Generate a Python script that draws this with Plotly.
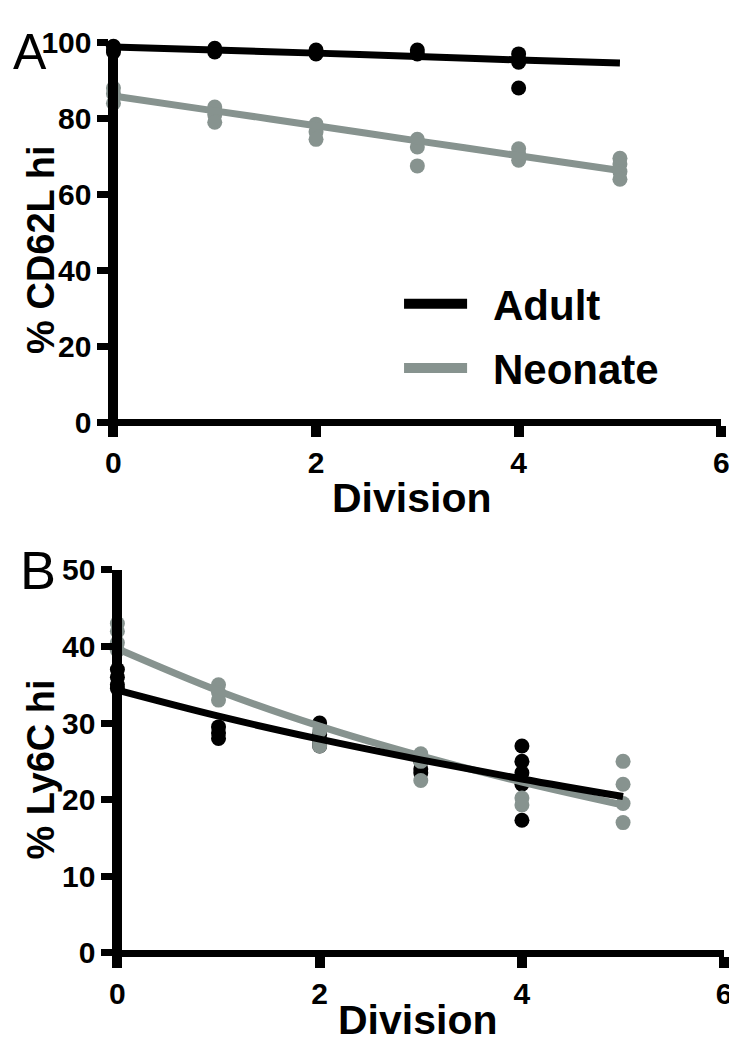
import plotly.graph_objects as go

# ---------------- data ----------------
divisions = [0, 1, 2, 3, 4, 5]

# Panel A: % CD62L hi
a_adult_x = [0, 0, 0, 1, 1, 2, 2, 3, 3, 4, 4, 4, 4]
a_adult_y = [99, 98, 97.5, 98.5, 97.5, 98, 97, 98, 97, 97, 95.5, 94.8, 88]
a_adult_fit = [98.8, 98.0, 97.2, 96.3, 95.4, 94.6]

a_neo_x = [0, 0, 0, 1, 1, 1, 2, 2, 2, 3, 3, 3, 4, 4, 4, 5, 5, 5, 5]
a_neo_y = [88, 86.5, 84, 83, 81, 79, 78.5, 76.5, 74.5, 74.5, 72.5, 67.5, 72, 70.5, 69, 69.5, 68, 66, 64]
a_neo_fit = [85.9, 82.0, 78.1, 74.1, 70.2, 66.3]

# Panel B: % Ly6C hi
b_adult_x = [0, 0, 0, 0, 1, 1, 1, 2, 2, 2, 2, 3, 3, 3, 4, 4, 4, 4, 4]
b_adult_y = [37, 36, 35, 34.5, 29.5, 28.7, 28, 30, 28.5, 27.5, 27, 25, 24, 23.5, 27, 25, 23.5, 22, 17.3]
b_adult_fit = [34.3, 30.9, 27.9, 25.2, 22.7, 20.4]

b_neo_x = [0, 0, 0, 0, 1, 1, 1, 2, 2, 2, 3, 3, 3, 4, 4, 5, 5, 5, 5]
b_neo_y = [43, 42, 40.5, 39.5, 35, 34, 33, 29, 27.5, 27, 26, 25, 22.5, 20.2, 19.3, 25, 22, 19.5, 17]
b_neo_fit = [39.7, 34.2, 29.6, 25.7, 22.3, 19.3]

a_yticks = [0, 20, 40, 60, 80, 100]
b_yticks = [0, 10, 20, 30, 40, 50]
xticks = [0, 2, 4, 6]

BLACK = "#000000"
GRAY = "#87938f"
SANS = "Liberation Sans, Arial, sans-serif"

W, H = 737, 1050
LWY = 10   # vertical axis line width
LWX = 7    # horizontal axis line width
MS = 15    # marker size
LW = 7     # fit line width

fig = go.Figure()

def add_panel(xa, ya, adult_x, adult_y, adult_fit, neo_x, neo_y, neo_fit):
    fig.add_trace(go.Scatter(x=adult_x, y=adult_y, mode="markers", xaxis=xa, yaxis=ya,
                             marker=dict(color=BLACK, size=MS), cliponaxis=False, showlegend=False))
    fig.add_trace(go.Scatter(x=neo_x, y=neo_y, mode="markers", xaxis=xa, yaxis=ya,
                             marker=dict(color=GRAY, size=MS), cliponaxis=False, showlegend=False))
    fig.add_trace(go.Scatter(x=divisions, y=neo_fit, mode="lines", xaxis=xa, yaxis=ya,
                             line=dict(color=GRAY, width=LW, shape="spline"), cliponaxis=False,
                             name="Neonate", showlegend=False))
    fig.add_trace(go.Scatter(x=divisions, y=adult_fit, mode="lines", xaxis=xa, yaxis=ya,
                             line=dict(color=BLACK, width=LW, shape="spline"), cliponaxis=False,
                             name="Adult", showlegend=False))

add_panel("x", "y", a_adult_x, a_adult_y, a_adult_fit, a_neo_x, a_neo_y, a_neo_fit)
add_panel("x2", "y2", b_adult_x, b_adult_y, b_adult_fit, b_neo_x, b_neo_y, b_neo_fit)

tickfont = dict(family=SANS, size=30, color=BLACK, weight="bold")

def make_axes(x0px, x6px, ytop_px, y0px, ymax, yticks):
    # value 0 of x at x0px, value 6 at x6px ; value 0 of y at y0px, ymax at ytop_px
    xppu = (x6px - x0px) / 6.0
    yppu = (y0px - ytop_px) / ymax
    xleft = x0px - LWY / 2.0
    ybot = y0px + LWX / 2.0
    xax = dict(domain=[xleft / W, x6px / W], range=[-(LWY / 2.0) / xppu, 6],
               anchor="free", position=(H - y0px) / H,
               showgrid=False, zeroline=False, showline=True, linecolor=BLACK, linewidth=LWX,
               ticks="outside", ticklen=11, tickwidth=10, tickcolor=BLACK, tickvals=xticks,
               tickfont=tickfont)
    yax = dict(domain=[(H - ybot) / H, (H - ytop_px) / H], range=[-(LWX / 2.0) / yppu, ymax],
               anchor="free", position=x0px / W,
               showgrid=False, zeroline=False, showline=True, linecolor=BLACK, linewidth=LWY,
               ticks="outside", ticklen=11, tickwidth=7, tickcolor=BLACK, tickvals=yticks,
               tickfont=tickfont)
    return xax, yax

xa1, ya1 = make_axes(104, 721, 18, 409, 100, a_yticks)
xa2, ya2 = make_axes(108, 724, 561, 955, 50, b_yticks)

fig.update_layout(
    width=W, height=H, margin=dict(l=0, r=0, t=0, b=0),
    paper_bgcolor="white", plot_bgcolor="white", showlegend=False,
    xaxis=xa1, yaxis=ya1, xaxis2=xa2, yaxis2=ya2,
)

# legend drawn inside panel A
for yy, col in [(287, BLACK), (353, GRAY)]:
    fig.add_shape(type="line", xref="paper", yref="paper", x0=399 / W, x1=463 / W,
                  y0=1 - yy / H, y1=1 - yy / H, line=dict(color=col, width=10))

bold = lambda s: dict(family=SANS, size=s, color=BLACK, weight="bold")
anns = [
    dict(text="Adult", x=487 / W, y=1 - 289 / H, xanchor="left", yanchor="middle", font=bold(42)),
    dict(text="Neonate", x=487 / W, y=1 - 355 / H, xanchor="left", yanchor="middle", font=bold(42)),
    dict(text="Division", x=407 / W, y=1 - 487 / H, xanchor="center", yanchor="middle", font=bold(41)),
    dict(text="Division", x=413 / W, y=0, xanchor="center", yanchor="bottom", font=bold(41)),
    dict(text="% CD62L hi", x=31 / W, y=1 - 232 / H, xanchor="center", yanchor="middle", textangle=-90,
         font=bold(38)),
    dict(text="% Ly6C hi", x=31 / W, y=1 - 767 / H, xanchor="center", yanchor="middle", textangle=-90,
         font=bold(38)),
    dict(text="A", x=0, y=1 - 28 / H, xanchor="left", yanchor="middle",
         font=dict(family=SANS, size=50, color=BLACK)),
    dict(text="B", x=27 / W, y=1 - 561 / H, xanchor="center", yanchor="middle",
         font=dict(family=SANS, size=54, color=BLACK)),
]
for a in anns:
    a.update(xref="paper", yref="paper", showarrow=False)
fig.update_layout(annotations=anns)

fig.write_html("out.html")
